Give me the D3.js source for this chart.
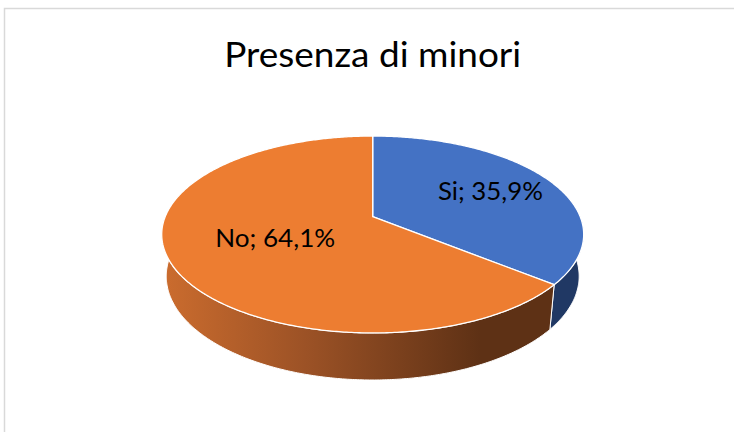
<!DOCTYPE html>
<html>
<head>
<meta charset="utf-8">
<script src="https://cdn.jsdelivr.net/npm/d3@7"></script>
<style>
  html, body { margin: 0; padding: 0; background: #fff; }
  svg { display: block; }
  text { font-family: Lato, "Open Sans", sans-serif; fill: #000; }
</style>
</head>
<body>
<svg id="myGraph" width="734" height="432"></svg>
<script>
// dati del grafico
var categories = ["Si", "No"]
var values = [35.9, 64.1]
var labels = ["Si; 35,9%", "No; 64,1%"]
var title = "Presenza di minori"

var topColors = ["#4472C4", "#ED7D31"]
var sideColors = ["#203864", "url(#sideNo)"]

var svgWidth = 734
var svgHeight = 432
var svg = d3.select("#myGraph")

// cornice
svg.append("rect")
	.attr("x", 4.5).attr("y", 8.5)
	.attr("width", 800).attr("height", 500)
	.attr("fill", "none")
	.attr("stroke", "#D9D9D9")
	.attr("stroke-width", 1.5)

// titolo
svg.append("text")
	.attr("x", 372.7)
	.attr("y", 66.7)
	.attr("text-anchor", "middle")
	.attr("font-size", 34)
	.attr("textLength", 297)
	.attr("lengthAdjust", "spacingAndGlyphs")
	.text(title)

// gradiente del lato arancione
var grad = svg.append("defs").append("linearGradient")
	.attr("id", "sideNo")
	.attr("gradientUnits", "userSpaceOnUse")
	.attr("x1", 163).attr("x2", 480).attr("y1", 0).attr("y2", 0)
grad.append("stop").attr("offset", 0).attr("stop-color", "#CB6C2E")
grad.append("stop").attr("offset", 0.45).attr("stop-color", "#9C5226")
grad.append("stop").attr("offset", 1).attr("stop-color", "#5E3115")

// proiezione prospettica della torta 3D
var cx = 372.7, cy = 216.7
var R = 0.2035, f = 1019.7
var sinA = 0.459, cosA = 0.888
var thick = 0.0464

function project(phi, r, y) {
	var x = r * R * Math.sin(phi)
	var z = -r * R * Math.cos(phi)
	var up = y * cosA - z * sinA
	var depth = 1 - (y * sinA + z * cosA)
	return [cx + f * x / depth, cy - f * up / depth]
}

function arcPoints(a0, a1, y) {
	var n = Math.max(2, Math.ceil((a1 - a0) / 0.01))
	return d3.range(n + 1).map(function(i) {
		return project(a0 + (a1 - a0) * i / n, 1, y)
	})
}

var pie = d3.pie().sort(null).value(function(d) { return d })
var arcs = pie(values)
var line = d3.line()

// lati (solo la parte frontale)
arcs.forEach(function(d, i) {
	var a0 = Math.max(d.startAngle, Math.PI / 2)
	var a1 = Math.min(d.endAngle, Math.PI * 1.5)
	if (a1 <= a0) return
	var pts = arcPoints(a0, a1, 0).concat(arcPoints(a0, a1, -thick).reverse())
	svg.append("path")
		.attr("d", line(pts) + "Z")
		.attr("fill", sideColors[i])
		.attr("stroke", "#fff")
		.attr("stroke-width", 1)
		.attr("stroke-linejoin", "round")
})

// facce superiori
arcs.forEach(function(d, i) {
	var pts = [project(0, 0, 0)].concat(arcPoints(d.startAngle, d.endAngle, 0))
	svg.append("path")
		.attr("d", line(pts) + "Z")
		.attr("fill", topColors[i])
		.attr("stroke", "#fff")
		.attr("stroke-width", 1.3)
		.attr("stroke-linejoin", "round")
})

// etichette
var labelRadius = [0.66, 0.5]
var labelWidth = [105, 120]
arcs.forEach(function(d, i) {
	var mid = (d.startAngle + d.endAngle) / 2
	var p = project(mid, labelRadius[i], 0)
	svg.append("text")
		.attr("x", p[0])
		.attr("y", p[1] + 9)
		.attr("text-anchor", "middle")
		.attr("font-size", 25)
		.attr("textLength", labelWidth[i])
		.attr("lengthAdjust", "spacingAndGlyphs")
		.text(labels[i])
})
</script>
</body>
</html>
